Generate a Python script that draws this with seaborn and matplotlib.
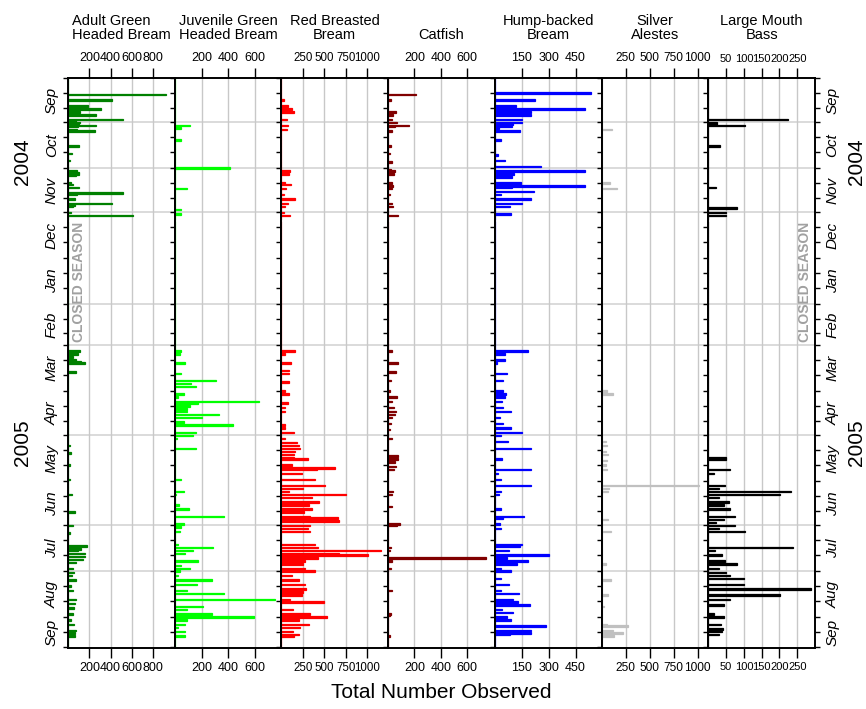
import numpy as np
import pandas as pd
import matplotlib
matplotlib.use("Agg")
import matplotlib.pyplot as plt
from matplotlib.transforms import blended_transform_factory
import seaborn as sns
from datetime import date

sns.set_theme(style="white")
plt.rcParams['font.family'] = ['Liberation Sans', 'DejaVu Sans']
plt.rcParams['text.color'] = 'black'

# ---------------- data: day offsets since 1 Sep 2004 and counts ----------------
START = date(2004, 9, 1)

adult_days = [11, 15, 19, 21, 23, 25, 28, 29, 30, 31, 32, 33, 35, 36, 46, 51, 56, 63, 64, 65, 66, 71, 72, 74,
              78, 79, 82, 85, 86, 87, 91, 93,
              185, 187, 189, 191, 192, 193, 199, 249, 254, 262, 272, 282, 294, 303, 308, 317, 319, 320, 322,
              324, 326, 328, 332, 335, 337, 340, 344, 347, 353, 356, 359, 363, 367, 370, 374, 376, 378]
adult_counts = [914, 412, 190, 308, 115, 262, 512, 78, 110, 106, 260, 94, 88, 253, 104, 36, 23, 88, 100, 100, 78,
                31, 47, 106, 515, 84, 62, 412, 69, 47, 31, 611,
                110, 94, 47, 78, 125, 162, 72, 16, 25, 19, 22, 41, 69, 47, 16, 178, 125, 94, 156,
                162, 140, 78, 47, 56, 37, 78, 31, 47, 78, 62, 56, 47, 31, 56, 78, 69, 62]

juv_days = [32, 34, 42, 61, 75, 89, 92,
            185, 187, 193, 200, 205, 207, 209, 214, 216, 219, 220, 222, 224, 226, 228, 230, 233, 235, 240,
            242, 244, 251, 272, 280, 282, 289, 292, 297, 302, 304, 307, 316, 318, 320, 322, 327, 330, 332,
            334, 337, 340, 343, 347, 349, 353, 358, 360, 363, 365, 367, 370, 372, 375, 378]
juv_counts = [112, 45, 45, 410, 92, 45, 45,
              50, 43, 80, 50, 308, 120, 155, 70, 25, 625, 170, 112, 88, 88, 333, 205, 68, 433, 155,
              138, 20, 155, 50, 68, 12, 30, 108, 365, 68, 50, 38, 25, 283, 138, 75, 170, 50, 112,
              38, 25, 275, 168, 88, 370, 745, 212, 88, 275, 588, 95, 75, 25, 75, 80]

red_days = [15, 19, 21, 23, 28, 32, 35, 63, 65, 71, 72, 75, 79, 82, 85, 87, 91, 93,
            185, 187, 193, 198, 200, 206, 212, 214, 220, 223, 226, 235, 237, 240, 244, 247, 249, 251, 253,
            255, 257, 258, 262, 264, 265, 268, 272, 276, 278, 280, 282, 284, 287, 289, 292, 294, 297, 298,
            300, 303, 305, 307, 316, 318, 320, 322, 323, 325, 327, 329, 332, 334, 337, 340, 343, 346, 348,
            350, 353, 355, 360, 363, 365, 367, 370, 372, 375, 377, 378]
red_counts = [35, 77, 124, 143, 66, 73, 66, 97, 85, 46, 116, 58, 27, 162, 77, 39, 27, 97,
              162, 39, 116, 85, 85, 93, 46, 85, 77, 46, 39, 46, 39, 143, 39, 181, 200, 220, 162,
              143, 143, 309, 124, 625, 413, 239, 394, 510, 247, 85, 749, 355, 432, 324, 355, 259, 336, 652,
              672, 336, 309, 328, 394, 425, 1158, 664, 1004, 425, 270, 247, 278, 394, 124, 200, 278, 286, 247,
              239, 104, 498, 131, 336, 529, 208, 324, 220, 131, 200, 143]

cat_days = [11, 15, 23, 25, 28, 30, 32, 33, 36, 46, 51, 57, 62, 63, 65, 71, 73, 75, 79, 85, 87, 93,
            185, 193, 199, 205, 212, 216, 219, 223, 226, 228, 230, 234, 238, 244, 256, 258, 260, 263, 265,
            280, 282, 290, 302, 303, 318, 320, 325, 327, 332, 347, 363, 364, 378]
cat_counts = [210, 20, 56, 38, 31, 64, 159, 51, 31, 20, 15, 26, 20, 51, 46, 31, 36, 26, 15, 33, 38, 77,
              26, 77, 56, 20, 13, 64, 26, 46, 56, 51, 31, 20, 13, 26, 77, 72, 51, 56, 46,
              38, 31, 26, 90, 64, 20, 13, 742, 31, 20, 26, 20, 13, 13]

hump_days = [10, 15, 19, 21, 23, 25, 28, 30, 31, 33, 34, 36, 42, 52, 56, 60, 63, 65, 67, 71, 73, 74, 77, 79,
             82, 85, 87, 92,
             185, 187, 191, 193, 200, 205, 212, 214, 216, 219, 223, 226, 230, 234, 237, 240, 242, 246, 251,
             258, 265, 268, 272, 276, 280, 282, 292, 297, 298, 302, 305, 316, 317, 320, 323, 325, 327, 329,
             332, 334, 339, 343, 347, 349, 353, 355, 357, 360, 362, 365, 367, 371, 374, 376, 377]
hump_counts = [535, 224, 119, 503, 203, 203, 153, 153, 102, 97, 22, 140, 32, 15, 54, 255, 503, 106, 97, 143,
               503, 97, 220, 32, 203, 153, 82, 88,
               186, 54, 56, 13, 69, 47, 45, 63, 54, 41, 47, 91, 26, 45, 91, 149, 35, 75, 203,
               41, 203, 19, 37, 203, 35, 22, 34, 164, 47, 28, 32, 153, 140, 78, 302, 69, 186, 121,
               32, 91, 32, 78, 34, 134, 102, 130, 196, 41, 100, 69, 91, 287, 199, 203, 82]

silver_days = [35, 71, 75, 212, 214, 246, 249, 253, 255, 259, 262, 265, 276, 278, 280, 299, 307, 329, 340,
               350, 358, 370, 371, 374, 376, 378]
silver_counts = [104, 87, 156, 52, 121, 50, 55, 45, 65, 60, 50, 55, 1017, 80, 62, 62, 97, 45, 97,
                 62, 28, 52, 271, 115, 219, 132]

bass_days = [28, 30, 31, 32, 46, 74, 88, 91, 93,
             257, 258, 265, 268, 276, 278, 280, 282, 284, 287, 289, 292, 297, 299, 301, 303, 305, 307, 318,
             320, 323, 327, 329, 332, 335, 337, 339, 343, 346, 350, 353, 357, 363, 365, 370, 373, 375, 377]
bass_counts = [223, 24, 24, 103, 33, 22, 82, 51, 51,
               50, 51, 61, 17, 47, 31, 232, 202, 29, 59, 45, 61, 76, 45, 22, 75, 31, 104, 237,
               19, 38, 47, 82, 31, 51, 61, 101, 101, 288, 202, 61, 43, 17, 45, 36, 40, 38, 29]

titles = ["Adult Green\nHeaded Bream", "Juvenile Green\nHeaded Bream", "Red Breasted\nBream", "Catfish",
          "Hump-backed\nBream", "Silver\nAlestes", "Large Mouth\nBass"]
colors = ["#008000", "#00ff00", "#ff0000", "#800000", "#0000ff", "#c0c0c0", "#000000"]
xmax = [1000, 795, 1240, 810, 595, 1110, 300]
xticks = [[200, 400, 600, 800], [200, 400, 600], [250, 500, 750, 1000], [200, 400, 600],
          [150, 300, 450], [250, 500, 750, 1000], [50, 100, 150, 200, 250]]
label_sizes = [9, 9, 8.3, 9, 9, 8.6, 8]
series = [(adult_days, adult_counts), (juv_days, juv_counts), (red_days, red_counts), (cat_days, cat_counts),
          (hump_days, hump_counts), (silver_days, silver_counts), (bass_days, bass_counts)]
for d, c in series:
    assert len(d) == len(c), (len(d), len(c))

month_names = ["Sep", "Oct", "Nov", "Dec", "Jan", "Feb", "Mar", "Apr", "May", "Jun", "Jul", "Aug", "Sep"]
END_DAY = 386

def off(y, m, d):
    return (date(y, m, d) - START).days

ym = [(2004, 9), (2004, 10), (2004, 11), (2004, 12), (2005, 1), (2005, 2), (2005, 3), (2005, 4),
      (2005, 5), (2005, 6), (2005, 7), (2005, 8), (2005, 9), (2005, 10)]
month_starts = [off(y, m, 1) for y, m in ym]
tick_days = [off(y, m, d) for y, m in ym for d in (1, 11, 21) if off(y, m, d) <= END_DAY]
grid_days = [off(2004, 10, 1), off(2004, 11, 1), off(2004, 12, 1), off(2005, 2, 1), off(2005, 3, 1),
             off(2005, 5, 1), off(2005, 7, 1), off(2005, 8, 1)]

# ---------------- figure ----------------
W, H = 866, 709
fig = plt.figure(figsize=(W / 100, H / 100), dpi=100)
L, R, T, B = 68, 815, 78, 648
pw = (R - L) / 7

axes = []
for i in range(7):
    ax = fig.add_axes([(L + i * pw) / W, 1 - B / H, pw / W, (B - T) / H])
    axes.append(ax)
    days, counts = series[i]
    df = pd.DataFrame({"day": np.asarray(days, dtype=float), "count": np.asarray(counts, dtype=float)})
    sns.histplot(data=df, y="day", weights="count", binwidth=1, binrange=(-0.5, END_DAY + 0.5),
                 ax=ax, color=colors[i], alpha=1, edgecolor=colors[i], linewidth=0.9)
    ax.set_xlim(0, xmax[i])
    ax.set_ylim(END_DAY, 0)
    ax.set_xlabel("")
    ax.set_ylabel("")
    ax.set_xticks(xticks[i])
    ax.set_xticklabels([str(v) for v in xticks[i]])
    ax.set_axisbelow(True)
    ax.grid(axis='x', color='#c8c8c8', linewidth=1)
    ax.grid(axis='y', visible=False)
    for gd in grid_days:
        ax.axhline(gd, color='#d4d4d4', linewidth=1.2, zorder=0.5)
    ax.set_yticks(tick_days)
    ax.set_yticklabels([])
    ax.tick_params(axis='x', top=True, bottom=True, labeltop=True, labelbottom=True,
                   direction='out', length=7, width=1, labelsize=label_sizes[i], pad=3,
                   colors='black')
    ax.tick_params(axis='y', left=True, right=(i == 6), direction='out', length=3.5, width=1,
                   labelleft=False, labelright=False, colors='black')
    for s in ax.spines.values():
        s.set_color('black')
        s.set_linewidth(1.4)
    fig.text((L + (i + 0.5) * pw) / W, 1 - 42 / H, titles[i], ha='center', va='bottom',
             fontsize=10.5, linespacing=1.0, color='black',
             multialignment='left' if i == 0 else 'center')

# month labels (left and right)
trL = blended_transform_factory(axes[0].transAxes, axes[0].transData)
trR = blended_transform_factory(axes[6].transAxes, axes[6].transData)
for k, name in enumerate(month_names):
    a = month_starts[k]
    b = min(month_starts[k + 1], END_DAY)
    mid = (a + b) / 2
    axes[0].text(-0.15, mid, name, transform=trL, rotation=90, ha='center', va='center',
                 fontsize=11, style='italic', color='black', clip_on=False)
    axes[6].text(1.165, mid, name, transform=trR, rotation=90, ha='center', va='center',
                 fontsize=11, style='italic', color='black', clip_on=False)

for label, d in [("2004", 57), ("2005", 247)]:
    axes[0].text(-0.43, d, label, transform=trL, rotation=90, ha='center', va='center',
                 fontsize=15, color='black', clip_on=False)
    axes[6].text(1.39, d, label, transform=trR, rotation=90, ha='center', va='center',
                 fontsize=15, color='black', clip_on=False)

closed_mid = (off(2004, 12, 6) + off(2005, 2, 28)) / 2
axes[0].text(0.105, closed_mid, "CLOSED SEASON", transform=trL, rotation=90, ha='center', va='center',
             fontsize=10, fontweight='bold', color='#a0a0a0')
axes[6].text(0.905, closed_mid, "CLOSED SEASON", transform=trR, rotation=90, ha='center', va='center',
             fontsize=10, fontweight='bold', color='#a0a0a0')

fig.text((L + R) / 2 / W, 1 - 693 / H, "Total Number Observed", ha='center', va='center',
         fontsize=15, color='black')

fig.savefig("out.png", dpi=100)
